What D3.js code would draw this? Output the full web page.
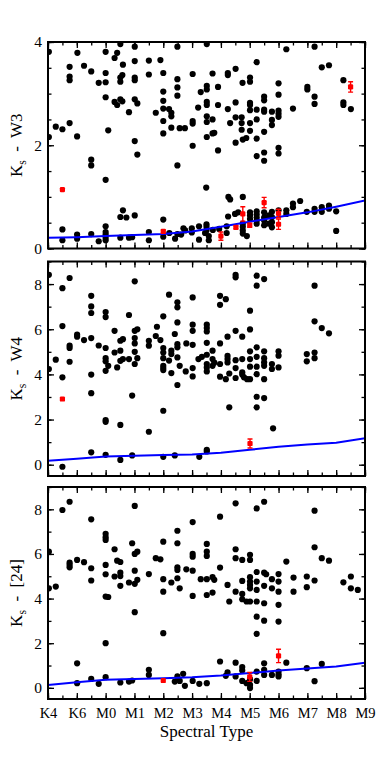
<!DOCTYPE html>
<html>
<head>
<meta charset="utf-8">
<script src="https://cdn.jsdelivr.net/npm/d3@7"></script>
<style>
  body { margin: 0; background: #fff; }
  svg text { font-family: "Liberation Serif", "Times New Roman", "DejaVu Serif", serif !important; }
</style>
</head>
<body>
<svg id="chart"></svg>
<script>
// spectral type as M subclass; K4 = -2, K6 = -1, M0 = 0 (K types at half steps)
const xTicks = [-2, -1, 0, 1, 2, 3, 4, 5, 6, 7, 8, 9];
const xTickLabels = ['K4', 'K6', 'M0', 'M1', 'M2', 'M3', 'M4', 'M5', 'M6', 'M7', 'M8', 'M9'];

// photospheric colour sequences (blue lines)
const lineTypes = [-2, -1, 0, 1, 2, 3, 4, 5, 6, 7, 8, 9];
const w3Line = [0.21, 0.22, 0.24, 0.26, 0.28, 0.33, 0.42, 0.52, 0.61, 0.70, 0.81, 0.93];
const w4Line = [0.18, 0.26, 0.36, 0.40, 0.43, 0.45, 0.53, 0.66, 0.80, 0.89, 0.97, 1.17];
const m24Line = [0.13, 0.25, 0.36, 0.40, 0.43, 0.47, 0.55, 0.66, 0.78, 0.87, 0.96, 1.13];

// Ks - W3, black points [type, colour]
const w3Pts = [
  [-1.97,3.81],[-1.25,3.52],[-1.25,3.33],[-1.25,3.26],[-0.98,3.79],[-0.75,3.54],[-0.5,3.43],[-0.24,3.21],
  [0,3.81],[0,3.40],[0,3.22],[0,2.93],[0.31,3.69],[0.40,3.79],[0.51,3.96],[0.60,3.56],[0.58,3.36],[0.51,3.31],
  [0.51,3.23],[0.51,2.89],[0.58,2.85],[0.31,2.84],[0.40,2.78],[0.81,2.64],[1.01,3.91],[1.01,3.63],[1.01,3.31],
  [1.01,3.26],[1.01,2.89],[1.10,2.81],[1.5,3.64],[1.5,3.37],[1.9,3.65],[2,3.40],[2,3.04],[2,2.86],[2,2.71],
  [2,2.47],[2,2.23],[1.74,2.63],[2.2,2.70],[2.28,2.63],[2.28,2.56],[2.28,2.34],[2.49,3.91],[2.49,3.28],[2.49,3.12],
  [2.49,2.96],[2.49,1.61],[2.57,2.33],[2.75,2.33],[-1.73,2.36],[-1.5,2.31],[-1.25,2.43],[-1.97,2.16],[-0.99,2.17],
  [0.09,2.29],[1.01,2.08],[1.10,1.82],[-0.5,1.72],[-0.5,1.61],[0,1.33],
  [3.51,3.96],[6.27,3.86],[7.25,3.91],[5.24,3.61],[3.02,3.38],[3.71,3.39],[4.24,3.40],[4.24,3.36],[4.51,3.48],
  [5.01,3.31],[5.01,3.23],[4.75,3.21],[6.0,3.20],[3.90,3.13],[3.51,3.15],[3.51,3.08],[3.30,3.03],[7.0,3.13],
  [7.0,3.08],[7.5,3.51],[7.75,3.55],[8.25,3.26],[8.25,2.83],[8.25,2.78],[8.51,2.70],[7.25,2.94],[7.25,2.80],
  [6.0,2.98],[5.5,2.94],[5.5,2.87],[5.01,2.82],[5.01,2.78],[4.51,2.83],[3.90,2.78],[3.51,2.84],[3.51,2.78],
  [3.21,2.73],[3.02,2.47],[3.02,2.42],[5.24,2.69],[5.01,2.68],[5.5,2.69],[5.5,2.65],[5.77,2.65],[6.0,2.67],
  [6.0,2.61],[6.0,2.55],[6.5,2.71],[3.51,2.56],[3.51,2.45],[3.71,2.50],[4.24,2.70],[4.51,2.54],[4.72,2.54],
  [4.72,2.43],[4.72,2.30],[5.01,2.43],[5.01,2.28],[5.24,2.50],[5.5,2.26],[5.77,2.49],[5.77,2.39],[4.32,2.43],
  [3.71,2.23],[3.77,2.24],[3.51,2.16],[3.02,1.99],[3.90,1.90],[4.51,2.05],[4.76,2.11],[4.88,2.14],[5.24,2.13],
  [6.0,1.95],[6.0,1.84],[5.24,1.79],[5.5,1.86],[5.5,1.70],
  [0.51,0.61],[0.60,0.74],[0.72,0.60],[1.01,0.64],[2,0.56],[0,0.43],[-1.5,0.37],[-1.5,0.16],[-0.99,0.27],
  [-0.99,0.19],[-0.5,0.28],[-0.24,0.14],[0,0.32],[0,0.27],[0,0.21],[0,0.16],[0.51,0.21],[0.81,0.21],[0.92,0.22],
  [1.5,0.32],[1.5,0.16],[2,0.23],[2.21,0.30],[2.41,0.19],[2.49,0.28],
  [2.62,0.27],[2.70,0.39],[2.76,0.35],[2.99,0.39],[2.99,0.31],[3.24,0.43],[3.24,0.17],[3.49,1.18],[3.5,0.47],
  [3.5,0.42],[3.5,0.35],[3.45,0.30],[3.58,0.24],[3.58,0.16],[3.72,0.36],[3.94,0.38],[4.2,0.43],[4.2,0.30],
  [4.26,1.0],[4.32,0.95],[4.25,0.62],[4.49,0.67],[4.6,0.70],[4.76,1.0],[4.76,0.48],[4.76,0.42],[4.76,0.35],
  [4.76,0.29],[4.9,0.24],[5.01,0.70],[5.01,0.64],[5.01,0.57],[5.24,0.72],[5.24,0.66],[5.24,0.60],[5.24,0.54],
  [5.24,0.48],[5.5,0.70],[5.5,0.60],[5.5,0.54],[5.5,0.45],[5.67,0.64],[5.67,0.48],
  [5.77,0.71],[5.77,0.61],[5.77,0.51],[5.77,0.41],[6.0,0.74],[6.27,0.74],[6.27,0.67],[6.5,0.80],[6.5,0.87],
  [6.75,0.92],[6.98,0.71],[7.25,0.71],[7.25,0.77],[7.5,0.80],[7.5,0.71],[7.75,0.83],[7.75,0.77],[8.0,0.72],[8.0,0.34]
];
// red points [type, colour, error]
const w3Red = [[-1.5,1.14,0],[2.0,0.33,0.03],[4.0,0.24,0.08],[4.52,0.41,0.03],[4.76,0.67,0.14],
  [5.0,0.45,0.04],[5.5,0.89,0.1],[6.0,0.68,0.08],[6.0,0.47,0.1],[8.5,3.13,0.1]];

// Ks - W4
const w4Pts = [
  [-1.97,8.41],[-1.5,7.82],[-1.25,8.27],[-1.5,6.14],[-1.97,4.24],[-1.73,4.65],[-1.5,3.87],[-1.5,-0.09],
  [-1.25,5.27],[-1.25,5.17],[-1.25,4.56],[-0.99,5.76],[-0.99,5.67],[-0.75,5.52],[-0.5,7.48],[-0.5,7.01],
  [-0.5,6.72],[-0.5,5.61],[-0.5,3.99],[-0.5,3.17],[-0.5,0.55],[-0.24,5.28],[0,6.76],[0,6.54],[0,5.17],[0,4.72],
  [0,4.58],[0,4.16],[0,1.98],[0,1.90],[0,0.44],[0.09,4.38],[0.31,5.93],[0.40,4.31],[0.31,4.97],[0.51,5.49],
  [0.51,5.05],[0.51,4.60],[0.60,5.56],[0.60,4.68],[0.51,1.76],[0.51,0.21],[0.81,6.63],[0.81,4.68],[0.92,3.06],
  [0.92,0.41],[1.01,8.12],[1.01,5.93],[1.01,5.61],[1.01,5.37],[1.01,5.00],[1.01,4.46],[1.10,6.0],[1.10,4.72],
  [1.5,5.49],[1.5,5.27],[1.5,1.46],[1.74,5.70],[1.78,6.11],[1.90,5.52],[2,6.57],[2,5.17],[2,4.97],[2,4.72],
  [2,4.38],[2,4.28],[2,4.19],[2,2.39],[2,0.35],[2.2,7.53],[2.2,4.61],[2.28,5.05],[2.28,4.90],[2.28,4.06],
  [2.4,5.79],[2.49,7.19],[2.49,6.97],[2.49,6.30],[2.49,5.34],[2.49,5.20],[2.49,4.75],[2.49,3.53],[2.57,4.38],
  [2.8,5.37],[2.4,0.41],[2.78,4.13],
  [3.02,7.41],[3.02,6.20],[3.02,5.93],[3.02,5.31],[3.02,4.28],[3.02,3.91],[3.22,4.68],[3.34,4.78],[3.51,6.20],
  [3.51,6.05],[3.51,5.90],[3.51,5.40],[3.51,4.87],[3.51,4.46],[3.51,4.31],[3.51,4.13],[3.71,5.05],[3.71,4.68],
  [3.71,4.38],[3.77,4.52],[3.97,7.48],[3.97,7.08],[3.97,5.37],[3.97,4.46],[3.97,3.90],[4.17,7.33],[4.17,3.79],
  [4.23,5.67],[4.23,4.82],[4.23,4.68],[4.23,4.53],[4.29,4.04],[4.29,2.54],[4.51,8.41],[4.51,8.30],[4.51,5.93],
  [4.51,4.63],[4.51,4.28],[4.51,3.84],[4.74,5.67],[4.74,4.68],[4.74,4.09],[4.74,3.99],[4.80,3.87],[4.91,3.79],
  [5.01,6.82],[5.01,5.99],[5.01,5.02],[5.01,4.68],[5.01,4.34],[5.01,3.79],[5.24,8.37],[5.24,7.93],[5.24,5.20],
  [5.24,4.78],[5.24,4.34],[5.24,4.01],[5.24,3.01],[5.24,2.54],[5.50,8.22],[5.50,5.02],[5.50,4.72],[5.50,4.53],
  [5.50,4.38],[5.50,3.79],[5.50,2.95],[5.77,4.46],[5.77,4.24],[5.81,1.61],[6.0,5.02],[6.0,4.83],[6.0,4.31],
  [6.98,4.90],[6.98,4.58],[7.25,7.93],[7.25,6.35],[7.25,4.97],[7.25,4.72],[7.50,6.05],[7.75,5.82],[3.51,0.66],
  [3.51,0.59],[3.25,0.35]
];
const w4Red = [[-1.5,2.91,0],[5.01,0.94,0.2]];

// Ks - [24]
const m24Pts = [
  [-1.97,6.10],[-1.97,4.46],[-1.73,4.54],[-1.5,7.97],[-1.25,8.34],[-1.25,5.61],[-1.25,5.51],[-1.25,5.40],
  [-0.99,5.73],[-0.99,1.10],[-0.99,0.21],[-0.75,5.63],[-0.5,7.55],[-0.5,5.36],[-0.5,4.81],[-0.5,0.40],
  [-0.24,0.18],[0,6.90],[0,6.75],[0,6.63],[0,5.51],[0,5.09],[0,4.09],[0.09,4.07],[0,2.0],[0,0.48],[0.31,6.21],
  [0.31,4.99],[0.40,5.70],[0.51,5.64],[0.51,5.16],[0.51,5.01],[0.51,4.57],[0.51,0.24],[0.81,4.72],[0.81,0.28],
  [0.92,0.33],[0.92,6.48],[1.01,8.15],[1.01,6.0],[1.10,6.10],[1.01,5.25],[1.01,4.66],[1.10,4.84],[1.01,3.39],
  [1.5,5.10],[1.5,0.81],[1.5,0.58],[1.74,5.81],[1.90,5.76],[2,6.55],[2,4.87],[2,4.31],[2,2.45],[2.28,4.72],
  [2.40,0.28],[2.49,7.04],[2.49,6.48],[2.49,5.40],[2.49,5.28],[2.49,4.91],[2.57,4.46],[2.49,0.51],[2.57,0.31],
  [2.69,0.63],[2.75,0.09],[2.80,5.31],
  [3.02,7.43],[3.02,6.0],[3.02,5.88],[3.02,5.25],[3.02,4.12],[3.02,0.31],[3.25,0.18],[3.30,4.87],[3.51,6.45],
  [3.51,6.10],[3.51,5.91],[3.51,4.87],[3.51,4.16],[3.51,0.21],[3.71,4.96],[3.77,4.84],[3.71,4.27],[3.97,7.67],
  [3.97,5.39],[3.97,1.18],[4.17,0.54],[4.23,0.69],[4.23,4.61],[4.29,3.87],[4.51,8.27],[4.51,6.21],[4.51,5.81],
  [4.51,4.31],[4.51,1.13],[4.51,0.51],[4.74,5.73],[4.74,4.79],[4.74,4.21],[4.74,3.97],[4.74,0.93],[4.74,0.78],
  [4.74,0.31],[4.89,3.87],[4.89,0.21],[5.01,5.96],[5.01,5.73],[5.01,4.96],[5.01,4.76],[5.01,4.61],[5.01,4.46],
  [5.01,3.87],[5.01,0.39],[5.01,0.13],[5.01,-0.01],[5.24,8.04],[5.24,5.19],[5.24,4.76],[5.24,4.39],[5.24,3.87],
  [5.24,3.19],[5.24,2.42],[5.24,0.73],[5.24,0.31],[5.5,8.34],[5.5,5.16],[5.57,5.09],[5.5,4.57],[5.5,3.79],
  [5.5,3.01],[5.5,1.10],[5.5,0.81],[5.5,0.58],[5.77,4.87],[5.77,4.46],[5.77,0.58],[6.0,5.10],[6.0,4.76],
  [6.0,4.31],[6.0,3.72],[6.0,2.97],[6.0,0.73],[6.0,0.61],[6.0,0.51],[6.27,5.66],[6.27,1.13],[6.52,4.94],
  [6.52,4.31],[6.98,4.99],[6.98,4.51],[6.98,0.88],[7.25,7.94],[7.25,6.30],[7.25,4.81],[7.25,0.30],[7.5,5.81],
  [7.5,1.07],[7.75,5.70],[8.25,4.73],[8.51,4.99],[8.51,4.46],[8.75,4.39]
];
const m24Red = [[2.0,0.33,0],[5.0,0.49,0.2],[6.0,1.43,0.3]];

const W = 378, H = 765;
const left = 48, right = 365;
const font = 'Liberation Serif';

const svg = d3.select('#chart')
  .attr('width', W)
  .attr('height', H);

const x = d3.scaleLinear().domain([-2, 9]).range([left, right]);
const xMinor = d3.range(-2, 9.01, 0.5);

const panels = [
  {pts: w3Pts, red: w3Red, line: w3Line, band: 'W3', top: 42, bottom: 248.5,
    dom: [0, 4], major: [0, 2, 4], minor: d3.range(0, 4.01, 0.5)},
  {pts: w4Pts, red: w4Red, line: w4Line, band: 'W4', top: 261.5, bottom: 476,
    dom: [-0.5, 9], major: [0, 2, 4, 6, 8], minor: d3.range(0, 9.01, 1)},
  {pts: m24Pts, red: m24Red, line: m24Line, band: '[24]', top: 487, bottom: 699,
    dom: [-0.5, 9], major: [0, 2, 4, 6, 8], minor: d3.range(0, 9.01, 1)}
];

function tidy(g) {
  g.select('.domain').remove();
  g.attr('font-family', font).attr('font-size', null);
  g.selectAll('line').attr('stroke', '#000').attr('stroke-width', 1.3);
  g.selectAll('text').attr('font-family', font);
}

panels.forEach((p, i) => {
  const y = d3.scaleLinear().domain(p.dom).range([p.bottom, p.top]);
  const isLast = i === panels.length - 1;

  svg.append('clipPath').attr('id', 'clip' + i)
    .append('rect')
    .attr('x', left).attr('y', p.top)
    .attr('width', right - left).attr('height', p.bottom - p.top);

  // ticks, all pointing inward
  svg.append('g').attr('transform', `translate(0,${p.bottom})`)
    .call(d3.axisBottom(x).tickValues(xMinor).tickSize(-3.5).tickFormat(''))
    .call(tidy);
  svg.append('g').attr('transform', `translate(0,${p.top})`)
    .call(d3.axisTop(x).tickValues(xMinor).tickSize(-3.5).tickFormat(''))
    .call(tidy);
  svg.append('g').attr('transform', `translate(0,${p.bottom})`)
    .call(d3.axisBottom(x).tickValues(xTicks).tickSize(-6).tickPadding(9)
      .tickFormat((d, k) => isLast ? xTickLabels[k] : ''))
    .call(tidy)
    .call(g => g.selectAll('text').attr('font-size', 14.5).attr('fill', '#000'));
  svg.append('g').attr('transform', `translate(0,${p.top})`)
    .call(d3.axisTop(x).tickValues(xTicks).tickSize(-6).tickFormat(''))
    .call(tidy);

  svg.append('g').attr('transform', `translate(${left},0)`)
    .call(d3.axisLeft(y).tickValues(p.minor).tickSize(-3.5).tickFormat(''))
    .call(tidy);
  svg.append('g').attr('transform', `translate(${right},0)`)
    .call(d3.axisRight(y).tickValues(p.minor).tickSize(-3.5).tickFormat(''))
    .call(tidy);
  svg.append('g').attr('transform', `translate(${left},0)`)
    .call(d3.axisLeft(y).tickValues(p.major).tickSize(-6).tickPadding(6).tickFormat(d3.format('d')))
    .call(tidy)
    .call(g => g.selectAll('text').attr('font-size', 15.5).attr('fill', '#000'));
  svg.append('g').attr('transform', `translate(${right},0)`)
    .call(d3.axisRight(y).tickValues(p.major).tickSize(-6).tickFormat(''))
    .call(tidy);

  const plot = svg.append('g').attr('clip-path', `url(#clip${i})`);

  plot.selectAll('circle.star')
    .data(p.pts)
    .enter()
    .append('circle')
    .attr('class', 'star')
    .attr('cx', d => x(d[0]))
    .attr('cy', d => y(d[1]))
    .attr('r', 3.1)
    .attr('fill', '#000');

  const line = d3.line()
    .x((d, k) => x(lineTypes[k]))
    .y(d => y(d));
  plot.append('path')
    .datum(p.line)
    .attr('d', line)
    .attr('fill', 'none')
    .attr('stroke', '#0000ff')
    .attr('stroke-width', 2);

  const red = plot.selectAll('g.red')
    .data(p.red)
    .enter()
    .append('g')
    .attr('class', 'red');
  red.filter(d => d[2] > 0).append('path')
    .attr('d', d => {
      const cx = x(d[0]), y0 = y(d[1] - d[2]), y1 = y(d[1] + d[2]);
      return `M${cx},${y0}V${y1}M${cx - 2.5},${y0}H${cx + 2.5}M${cx - 2.5},${y1}H${cx + 2.5}`;
    })
    .attr('stroke', '#ff0000')
    .attr('stroke-width', 1.4)
    .attr('fill', 'none');
  red.append('rect')
    .attr('x', d => x(d[0]) - 2.6)
    .attr('y', d => y(d[1]) - 2.6)
    .attr('width', 5.2)
    .attr('height', 5.2)
    .attr('rx', 1.2)
    .attr('fill', '#ff0000');

  // frame
  svg.append('rect')
    .attr('x', left).attr('y', p.top)
    .attr('width', right - left).attr('height', p.bottom - p.top)
    .attr('fill', 'none')
    .attr('stroke', '#000')
    .attr('stroke-width', 2);

  // y title: K_s - band
  const t = svg.append('text')
    .attr('transform', `translate(22,${(p.top + p.bottom) / 2}) rotate(-90)`)
    .attr('text-anchor', 'middle')
    .attr('font-family', font)
    .attr('font-size', 17)
    .attr('fill', '#000')
    .style('white-space', 'pre');
  t.append('tspan').text('K');
  t.append('tspan').attr('font-size', 11.5).attr('dy', 4).text('s');
  t.append('tspan').attr('dy', -4).text('  -  ' + p.band);
});

svg.append('text')
  .attr('x', (left + right) / 2)
  .attr('y', 737)
  .attr('text-anchor', 'middle')
  .attr('font-family', font)
  .attr('font-size', 17)
  .attr('fill', '#000')
  .text('Spectral Type');
</script>
</body>
</html>
